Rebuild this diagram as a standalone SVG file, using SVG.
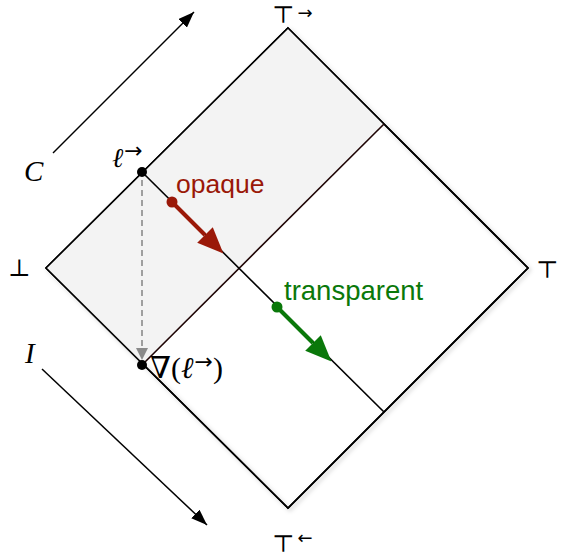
<svg xmlns="http://www.w3.org/2000/svg" width="561" height="556" viewBox="0 0 561 556">
<defs>
<style>
.edge{fill:none;stroke:#000;stroke-width:1.6}
.inner{fill:none;stroke:#1e0404;stroke-width:1.6}
.sans{font-family:"Liberation Sans",Arial,sans-serif}
.math{font-family:"Liberation Serif","DejaVu Serif",serif}
.arr{font-family:"DejaVu Sans",sans-serif;font-style:normal}
.it{font-style:italic}
</style>
<filter id="sh" x="-10%" y="-10%" width="120%" height="120%">
<feDropShadow dx="2" dy="2" stdDeviation="2" flood-color="#000" flood-opacity="0.25"/>
</filter>
<marker id="ah" viewBox="0 0 16 12" refX="16" refY="6" markerWidth="16" markerHeight="12" markerUnits="userSpaceOnUse" orient="auto">
<path d="M0,0 L16,6 L0,12 z" fill="#000"/>
</marker>
<marker id="ahRed" viewBox="0 0 26 22" refX="0" refY="11" markerWidth="26" markerHeight="22" markerUnits="userSpaceOnUse" orient="auto">
<path d="M0,0 L26,11 L0,22 z" fill="#9a1808"/>
</marker>
<marker id="ahGreen" viewBox="0 0 26 22" refX="0" refY="11" markerWidth="26" markerHeight="22" markerUnits="userSpaceOnUse" orient="auto">
<path d="M0,0 L26,11 L0,22 z" fill="#0a780a"/>
</marker>
<marker id="ahGray" viewBox="0 0 12 14" refX="12" refY="7" markerWidth="12" markerHeight="14" markerUnits="userSpaceOnUse" orient="auto">
<path d="M0,1 L12,7 L0,13 z" fill="#8a8a8a"/>
</marker>
</defs>
<rect width="561" height="556" fill="#fff"/>
<g id="diamond">
<polygon points="288,28 528,268 288,508 46,268" fill="#fff" filter="url(#sh)" class="edge"/>
<polygon points="46,268 288,28 384,124 142,365" fill="#f3f3f3" stroke="none"/>
<polygon points="288,28 528,268 288,508 46,268" class="edge"/>
</g>
<g id="connectors">
<line x1="142" y1="365" x2="384" y2="124" class="inner"/>
<line x1="142" y1="172" x2="384" y2="412" class="edge"/>
<line x1="142" y1="180" x2="142" y2="360" stroke="#8a8a8a" stroke-width="1.6" stroke-dasharray="6,4" marker-end="url(#ahGray)"/>
<line x1="53" y1="153" x2="194" y2="12" stroke="#000" stroke-width="1.5" marker-end="url(#ah)"/>
<line x1="42" y1="369" x2="207" y2="525" stroke="#000" stroke-width="1.5" marker-end="url(#ah)"/>
<line x1="172" y1="202" x2="205" y2="235" stroke="#9a1808" stroke-width="4" marker-end="url(#ahRed)"/>
<line x1="277" y1="307" x2="313" y2="343" stroke="#0a780a" stroke-width="4" marker-end="url(#ahGreen)"/>
</g>
<g id="points">
<circle cx="142" cy="172" r="5" fill="#000"/>
<circle cx="142" cy="365" r="5" fill="#000"/>
<circle cx="172" cy="202" r="5.5" fill="#9a1808"/>
<circle cx="277" cy="307" r="5.5" fill="#0a780a"/>
</g>
<g id="labels">
<text x="176" y="193" class="sans" font-size="26.5" fill="#9a1808">opaque</text>
<text x="284" y="300" class="sans" font-size="27.5" fill="#0a780a">transparent</text>
<text x="24" y="181" class="math it" font-size="29">C</text>
<text x="25" y="363" class="math it" font-size="29">I</text>
<text x="8" y="276" class="math" font-size="24">⊥</text>
<text x="112" y="167" class="math it" font-size="27">ℓ<tspan class="arr" font-size="22" dy="-9" dx="1">→</tspan></text>
<text x="150" y="378" class="math" font-size="30">∇(<tspan font-style="italic">ℓ</tspan><tspan class="arr" font-size="22" dy="-9" dx="1">→</tspan><tspan dy="9">)</tspan></text>
<text x="272" y="23" class="math" font-size="24">⊤<tspan class="arr" font-size="18" dy="-4" dx="3">→</tspan></text>
<text x="272" y="552" class="math" font-size="24">⊤<tspan class="arr" font-size="18" dy="-8" dx="3">←</tspan></text>
<text x="536" y="278" class="math" font-size="24">⊤</text>
</g>
</svg>
